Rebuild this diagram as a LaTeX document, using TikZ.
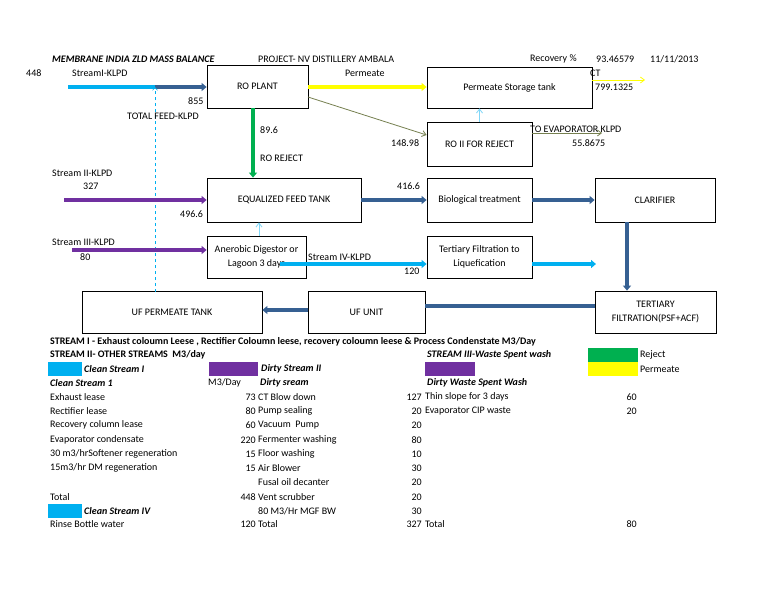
\documentclass[tikz,border=0pt]{standalone}
\usepackage{fontspec}
\setmainfont{Carlito}
\usetikzlibrary{arrows.meta}
\definecolor{lb}{RGB}{0,176,240}
\definecolor{db}{RGB}{54,96,146}
\definecolor{pu}{RGB}{112,48,160}
\definecolor{gr}{RGB}{0,176,80}
\definecolor{ye}{RGB}{255,255,0}
\definecolor{ol}{RGB}{118,128,80}
\begin{document}
\begin{tikzpicture}[x=1pt,y=-1pt,font=\fontsize{10}{11}\selectfont,
 box/.style={draw,thick,align=center,inner sep=0pt},
 t/.style={anchor=west,inner sep=0pt},
 r/.style={anchor=east,inner sep=0pt},
 fat/.style={line width=3.2pt,-{Triangle[length=5pt,width=8pt]}},
 thin/.style={line width=0.8pt,-{Straight Barb[length=4pt,width=6pt]}},
 sw/.style={inner sep=0pt,minimum height=14pt}]
\useasboundingbox[fill=white] (0,0) rectangle (768,594);
\node[box,minimum width=101,minimum height=43] (ro) at (257.5,86.5) {RO PLANT};
\node[box,minimum width=165,minimum height=41] (pst) at (509.5,87.5) {Permeate Storage tank};
\node[box,minimum width=105,minimum height=44] (ro2) at (479.5,144) {RO II FOR REJECT};
\node[box,minimum width=154,minimum height=44] (eq) at (284,200) {EQUALIZED FEED TANK};
\node[box,minimum width=105,minimum height=44] (bio) at (479.5,200) {Biological treatment};
\node[box,minimum width=120,minimum height=44] (cla) at (655,200) {CLARIFIER};
\node[box,minimum width=99,minimum height=42] (ana) at (256.5,257) {Anerobic Digestor or\\[3pt]Lagoon 3 days};
\node[box,minimum width=105,minimum height=42] (tfl) at (479.5,257) {Tertiary Filtration to\\[3pt]Liquefication};
\node[box,minimum width=180,minimum height=42] (ufp) at (172,312) {UF PERMEATE TANK};
\node[box,minimum width=117,minimum height=42] (uf) at (366.5,312) {UF UNIT};
\node[box,minimum width=121,minimum height=42] (ter) at (655.5,312) {TERTIARY\\[3pt]FILTRATION(PSF+ACF)};
% coordinates
\coordinate (s1) at (68,87); \coordinate (j1) at (155,87); \coordinate (dl) at (155,292);
\coordinate (s2) at (64,200); \coordinate (s3) at (72,250); \coordinate (s4) at (280,264);
\coordinate (ct) at (645,80); \coordinate (ev) at (602,133); \coordinate (tf) at (596,264);
% connectors
\draw[lb,line width=3.2pt] (s1) -- (j1);
\draw[db,fat] (j1) -- (ro.west|-j1);
\draw[lb,dashed,line width=0.5pt,-{Straight Barb[length=3pt,width=5pt]}] (dl) -- (j1);
\draw[ye,fat] (ro.east|-j1) -- (pst.west|-j1);
\draw[ye,thin] (pst.east|-ct) -- (ct);
\draw[ol,thin] (308,97) -- (ro2.west|-0,135);
\draw[lb!50!white,thin] (ro2.north) -- (pst.south-|ro2.north);
\draw[ol,thin] (ro2.east|-ev) -- (ev);
\draw[gr,fat] (253,108) -- (eq.north-|253,0);
\draw[pu,fat] (s2) -- (eq.west);
\draw[db,fat] (eq.east) -- (bio.west);
\draw[db,fat] (bio.east) -- (cla.west);
\draw[lb!50!white,thin] (ana.north-|259,0) -- (eq.south-|259,0);
\draw[pu,fat] (s3) -- (ana.west|-s3);
\draw[lb,fat] (s4) -- (tfl.west|-s4);
\draw[lb,fat] (tfl.east|-tf) -- (tf);
\draw[db,fat] (cla.south-|627,0) -- (ter.north-|627,0);
\draw[db,line width=3.2pt] (ter.west|-0,306) -- (uf.east|-0,306);
\draw[db,fat] (uf.west|-0,310) -- (ufp.east|-0,310);
% labels top
\node[t] (h1) at (52,59) {\bfseries\itshape MEMBRANE INDIA ZLD MASS BALANCE};
\node[t] (h2) at (258,59) {PROJECT- NV DISTILLERY AMBALA};
\node[t] (h3) at (530,59) {Recovery \%};
\node[t] (h4) at (596,59) {93.46579};
\node[t] (h5) at (650,59) {11/11/2013};
\node[t] (l1) at (26,73) {448};
\node[t] (l2) at (72,73) {StreamI-KLPD};
\node[t] (l3) at (188,101) {855};
\node[t] (l4) at (127,116) {TOTAL FEED-KLPD};
\node[t] (l5) at (345,73) {Permeate};
\node[t] (l6) at (590,73) {CT};
\node[t] (l7) at (595,87) {799.1325};
\node[t] (l8) at (391,143) {148.98};
\node[t] (l9) at (530,129) {TO EVAPORATOR KLPD};
\node[t] (l10) at (572,143) {55.8675};
\node[t] (l11) at (260,130) {89.6};
\node[t] (l12) at (260,158) {RO REJECT};
\node[t] (l13) at (52,173) {Stream II-KLPD};
\node[t] (l14) at (83,186) {327};
\node[t] (l15) at (180,214) {496.6};
\node[t] (l16) at (397,186) {416.6};
\node[t] (l17) at (52,242) {Stream III-KLPD};
\node[t] (l18) at (80,257) {80};
\node[t] (l19) at (308,257) {Stream IV-KLPD};
\node[t] (l20) at (404,271) {120};
% table
\node[t] (a1) at (50,342) {\bfseries STREAM I - Exhaust coloumn Leese , Rectifier Coloumn leese, recovery coloumn leese \& Process Condenstate M3/Day};
\node[t] (a2) at (50,355) {\bfseries STREAM II- OTHER STREAMS\ \ M3/day};
\node[t] (a3) at (427,355) {\bfseries\itshape STREAM III-Waste Spent wash};
\node[sw,fill=gr,minimum width=50,anchor=west] (k1) at (588,355) {};
\node[sw,fill=ye,minimum width=50,anchor=west] (k2) at (588,369) {};
\node[t] (a4) at (640,355) {Reject};
\node[t] (a5) at (640,369) {Permeate};
\node[sw,fill=lb,minimum width=34,anchor=west] (k3) at (48,369) {};
\node[sw,fill=pu,minimum width=49,anchor=west] (k4) at (209,369) {};
\node[sw,fill=pu,minimum width=50,anchor=west] (k5) at (425,369) {};
\node[t] (a6) at (84,369) {\bfseries\itshape Clean Stream I};
\node[t] (a7) at (261,369) {\bfseries\itshape Dirty Stream II};
\node[t] (b1) at (50,383) {\bfseries\itshape Clean Stream 1};
\node[t] (b2) at (208,383) {M3/Day};
\node[t] (b3) at (260,383) {\bfseries\itshape Dirty sream};
\node[t] (b4) at (427,383) {\bfseries\itshape Dirty Waste Spent Wash};
\foreach \y/\a/\b/\c/\d/\e/\f [count=\i] in {
 397/Exhaust lease/73/CT Blow down/127/Thin slope for 3 days/60,
 411/Rectifier lease/80/Pump sealing/20/Evaporator CIP waste/20,
 425/Recovery column lease/60/Vacuum\ \ Pump/20//,
 440/Evaporator condensate/220/Fermenter washing/80//,
 454/{30 m3/hrSoftener regeneration}/15/Floor washing/10//,
 468/{15m3/hr DM regeneration}/15/Air Blower/30//,
 482///Fusal oil decanter/20//,
 497/Total/448/Vent scrubber/20//,
 511///{80 M3/Hr MGF BW}/30//,
 524/Rinse Bottle water/120/Total/327/Total/80}{
 \node[t] (ta\i) at (50,\y) {\a};
 \node[r] (tb\i) at (256,\y) {\b};
 \node[t] (tc\i) at (258,\y) {\c};
 \node[r] (td\i) at (422,\y) {\d};
 \node[t] (te\i) at (425,\y) {\e};
 \node[r] (tf\i) at (637,\y) {\f};
}
\node[sw,fill=lb,minimum width=34,anchor=west] (k6) at (48,511) {};
\node[t] (a8) at (84,511) {\bfseries\itshape Clean Stream IV};
\end{tikzpicture}
\end{document}
